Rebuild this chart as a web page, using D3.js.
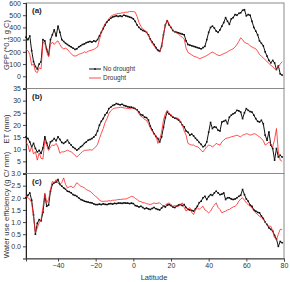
<!DOCTYPE html>
<html>
<head>
<meta charset="utf-8">
<script src="https://cdn.jsdelivr.net/npm/d3@7"></script>
<style>
  body { margin: 0; background: #fff; }
  svg { display: block; font-family: "Liberation Sans", Arial, sans-serif; }
</style>
</head>
<body>
<svg></svg>
<script>
// latitude grid, 1 degree steps from -57 to 79
let lat = d3.range(-57, 80, 1)

// (a) GPP, *0.1 g C
let gppNo = [
  320, 300, 330, 210, 120, 80, 60, 100, 120, 300,
  290, 220, 175, 300, 340, 380, 330, 410, 360, 300,
  285, 270, 260, 250, 240, 230, 220, 225, 240, 250,
  260, 265, 275, 280, 285, 280, 290, 285, 300, 330,
  360, 390, 420, 445, 460, 475, 485, 490, 495, 490,
  495, 490, 500, 495, 490, 485, 480, 470, 450, 420,
  400, 385, 375, 370, 360, 340, 305, 280, 260, 235,
  215, 205, 245, 340, 420, 455, 420, 400, 375, 365,
  360, 355, 350, 345, 340, 290, 260, 255, 250, 245,
  240, 235, 230, 225, 235, 245, 300, 360, 400, 410,
  395, 370, 360, 380, 410, 440, 480, 450, 425, 470,
  480, 505, 500, 515, 520, 540, 545, 495, 505, 500,
  450, 400, 370, 340, 290, 270, 250, 200, 165, 130,
  110, 130, 110, 55, 85, 20, 10
]
let gppDr = [
  220, 210, 180, 90, 100, 40, 30, 70, 60, 280,
  270, 200, 160, 260, 280, 260, 280, 290, 260, 235,
  225, 230, 220, 200, 185, 170, 165, 170, 180, 185,
  190, 200, 195, 205, 210, 215, 220, 230, 240, 300,
  360, 400, 430, 455, 470, 490, 500, 505, 510, 515,
  515, 520, 520, 525, 525, 530, 530, 530, 525, 490,
  440, 410, 390, 375, 360, 335, 300, 270, 250, 225,
  205, 200, 240, 340, 420, 460, 430, 400, 375, 365,
  355, 345, 330, 320, 305, 230, 195, 185, 175, 165,
  160, 155, 145, 148, 155, 162, 170, 180, 190, 198,
  190, 180, 172, 170, 178, 185, 192, 200, 210, 218,
  225, 240, 260, 285, 315, 300, 278, 270, 265, 250,
  240, 232, 225, 205, 178, 165, 150, 135, 120, 105,
  90, 80, 60, 55, 80, 100, 120
]

// (b) ET, mm
let etNo = [
  15.1, 14.4, 13, 11, 12.4, 10.3, 8.9, 9.5, 8.3, 10.5,
  15.1, 12.5, 10.3, 13, 13.5, 14.4, 13.5, 15.1, 14, 12.8,
  12.4, 13, 13.7, 12.5, 11.7, 10.8, 10.3, 9.6, 10.2, 11,
  11.5, 12.4, 13, 13.7, 14, 14.4, 15, 15.8, 17.5, 19.9,
  21.5, 22.6, 24.2, 25, 26.7, 27.3, 28, 28.3, 28.8, 28.5,
  28.3, 28.5, 28, 27.8, 27.5, 27.3, 27.3, 27, 26.7, 26.2,
  25.3, 24.2, 24, 23.2, 23, 22, 19.5, 18, 16.4, 15.2,
  14.4, 13, 15.1, 19, 23, 25.3, 24.5, 23.9, 23.2, 22.8,
  22.6, 22, 21.2, 20, 19.2, 17.5, 17, 15.8, 16.2, 15.5,
  14.5, 13.7, 12.8, 12, 11, 11.5, 13, 17, 21, 18.5,
  19.2, 19, 17.8, 17.5, 21.2, 21.5, 21.9, 20.5, 23.2, 24,
  24.6, 25, 26, 25.8, 25.3, 22.6, 25, 26.7, 26, 25.5,
  25.3, 24, 22.6, 21.5, 21.2, 21.9, 20.5, 15.8, 13.7, 17.1,
  11.7, 10.3, 5.5, 10.3, 6.8, 7.5, 6.8
]
let etDr = [
  13, 11.7, 8.9, 11, 8, 9, 5.5, 8.5, 6.2, 6,
  13.7, 11.5, 9.5, 11, 11.7, 11.5, 12.4, 11, 8.3, 8.9,
  8.9, 9.2, 9.6, 9.2, 8.9, 8.3, 7.5, 6.8, 7.5, 8.3,
  9, 9.5, 9.6, 9.6, 9.8, 9.6, 10.2, 11, 12, 14.4,
  16.5, 18.5, 21, 22.5, 24.6, 25.8, 26.5, 26.9, 27, 27.1,
  27.3, 27.2, 27, 26.9, 26.8, 26.7, 26.7, 27.3, 26.8, 26,
  24.6, 23.5, 23.2, 22.2, 21.9, 20.5, 18.8, 17.5, 16.2, 15.8,
  12.4, 14, 17, 22, 24.6, 26, 25, 23.9, 23.5, 23,
  22.8, 22.6, 21.5, 19.9, 17.5, 15.8, 12.4, 12, 11.7, 11.7,
  11.2, 11, 10.5, 9.5, 8.9, 10, 11, 11.7, 11.5, 11,
  11.5, 12.4, 12, 11.7, 13, 13.7, 14.4, 14.6, 14.8, 15.1,
  15.3, 15.5, 15.8, 15.4, 15.1, 15.8, 16, 16.4, 16.2, 15.8,
  16, 16.4, 16.2, 15.6, 15.1, 14.4, 13.5, 11.7, 12.2, 13,
  12, 11, 14, 18.5, 8.9, 5.5, 5
]

// (c) water use efficiency, g C / mm
let wueNo = [
  2.0, 2.1, 2.2, 1.9, 1.3, 0.5, 0.95, 1.1, 1.05, 1.4,
  2.1, 1.65, 1.7, 2.27, 2.55, 2.62, 2.65, 2.75, 2.55, 2.48,
  2.41, 2.35, 2.27, 2.25, 2.2, 2.13, 2.1, 2.06, 2.0, 1.93,
  1.9, 1.86, 1.84, 1.82, 1.8, 1.79, 1.75, 1.72, 1.72, 1.74,
  1.72, 1.75, 1.73, 1.72, 1.75, 1.76, 1.74, 1.77, 1.76, 1.78,
  1.78, 1.77, 1.79, 1.78, 1.78, 1.76, 1.78, 1.76, 1.68, 1.66,
  1.62, 1.65, 1.6, 1.55, 1.58, 1.54, 1.52, 1.56, 1.6, 1.55,
  1.52, 1.5, 1.58, 1.65, 1.62, 1.7, 1.72, 1.68, 1.62, 1.6,
  1.65, 1.7, 1.72, 1.68, 1.72, 1.6, 1.52, 1.5, 1.48, 1.45,
  1.55, 1.65, 1.8, 1.86, 2.0, 2.06, 1.93, 2.05, 2.13, 2.1,
  2.2, 2.27, 2.2, 2.13, 2.15, 2.2, 1.93, 2.0, 2.0, 1.95,
  1.93, 1.95, 2.0, 2.06, 2.1, 2.34, 2.13, 1.95, 1.86, 1.7,
  1.65, 1.5, 1.45, 1.4, 1.38, 1.25, 1.15, 1.0, 0.9, 0.76,
  0.7, 0.63, 0.45, 0.3, 0.0, 0.2, 0.15
]
let wueDr = [
  2.06, 2.0, 1.95, 1.8, 1.2, 0.56, 0.76, 0.97, 1.11, 1.6,
  2.2, 1.8, 1.93, 2.34, 2.68, 2.62, 2.75, 2.6, 2.55, 2.62,
  2.82, 2.55, 2.41, 2.45, 2.48, 2.41, 2.5, 2.62, 2.55, 2.48,
  2.45, 2.41, 2.34, 2.3, 2.27, 2.2, 2.13, 2.05, 2.0, 1.9,
  1.86, 1.85, 1.86, 1.86, 1.88, 1.87, 1.9, 1.9, 1.91, 1.93,
  1.93, 1.94, 1.95, 1.95, 1.98, 2.02, 2.06, 2.04, 1.98, 1.93,
  1.86, 1.84, 1.8, 1.79, 1.76, 1.74, 1.72, 1.75, 1.79, 1.76,
  1.78, 1.79, 1.72, 1.65, 1.7, 1.76, 1.79, 1.72, 1.65, 1.68,
  1.65, 1.65, 1.72, 1.79, 1.6, 1.45, 1.55, 1.59, 1.4, 1.31,
  1.5, 1.59, 1.52, 1.6, 1.65, 1.5, 1.45, 1.38, 1.45, 1.59,
  1.7, 1.79, 1.6, 1.52, 1.38, 1.42, 1.45, 1.5, 1.52, 1.58,
  1.62, 1.65, 1.72, 1.86, 1.95, 2.0, 1.9, 1.79, 1.72, 1.65,
  1.58, 1.45, 1.38, 1.31, 1.24, 1.18, 1.11, 1.0, 0.9, 0.83,
  0.83, 0.63, 0.35, 0.28, 0.5, 0.7, 0.7
]

let xTicks = [-40, -20, 0, 20, 40, 60, 80]
let seriesNames = ["No drought", "Drought"]

let width = 290
let height = 282
let left = 26
let right = 284

let svg = d3.select("svg").attr("width", width).attr("height", height)

let xScale = d3.scaleLinear().domain([-57, 80]).range([left, right])

// one entry per panel; the "0" of (b) sits under the "3.0" of (c), so it gets no text
let panels = [
  { tag: "(a)", title: "GPP (*0.1 g C)", no: gppNo, dr: gppDr, domain: [-100, 600],
    ticks: [0, 100, 200, 300, 400, 500, 600], fmt: d3.format("d"),
    top: 3, bottom: 88.5, titleY: 45, titleSize: 7.5 },
  { tag: "(b)", title: "ET (mm)", no: etNo, dr: etDr, domain: [0, 35],
    ticks: [0, 5, 10, 15, 20, 25, 30, 35], fmt: d => d === 0 ? "" : d,
    top: 88.5, bottom: 173.5, titleY: 129, titleSize: 7.5 },
  { tag: "(c)", title: "Water use efficiency (g C/ mm)", no: wueNo, dr: wueDr, domain: [-0.5, 3.0],
    ticks: [0, 0.5, 1, 1.5, 2, 2.5, 3], fmt: d3.format(".1f"),
    top: 173.5, bottom: 258.5, titleY: 205, titleSize: 7.8 }
]

panels.forEach(function(p) {
  let yScale = d3.scaleLinear().domain(p.domain).range([p.bottom, p.top])
  let g = svg.append("g")

  // frame
  g.append("rect")
   .attr("x", left).attr("y", p.top)
   .attr("width", right - left).attr("height", p.bottom - p.top)
   .attr("fill", "none").attr("stroke", "#8a8a8a").attr("stroke-width", 1)

  let yAxis = d3.axisLeft(yScale).tickValues(p.ticks).tickFormat(p.fmt).tickSize(3).tickPadding(2)
  let ax = g.append("g").attr("transform", "translate(" + left + ",0)").call(yAxis)
  ax.select(".domain").attr("stroke", "#222")
  ax.selectAll(".tick line").attr("stroke", "#444")
  ax.selectAll("text").attr("font-size", 7).attr("fill", "#333")

  let line = d3.line()
               .x((d, i) => xScale(lat[i]))
               .y(d => yScale(d))

  g.append("path").datum(p.no)
   .attr("d", line).attr("fill", "none").attr("stroke", "#111").attr("stroke-width", 1)
  g.selectAll(".mk").data(p.no).enter().append("rect")
   .attr("x", (d, i) => xScale(lat[i]) - 0.8)
   .attr("y", d => yScale(d) - 0.8)
   .attr("width", 1.6).attr("height", 1.6)
   .attr("fill", "#111")

  g.append("path").datum(p.dr)
   .attr("d", line).attr("fill", "none").attr("stroke", "#f22").attr("stroke-width", 0.8)

  g.append("text").attr("x", 32).attr("y", p.top + 10)
   .attr("font-size", 8).attr("font-weight", "bold").attr("fill", "#222").text(p.tag)

  g.append("text")
   .attr("transform", "translate(9," + p.titleY + ") rotate(-90)")
   .attr("text-anchor", "middle").attr("font-size", p.titleSize).attr("fill", "#333")
   .text(p.title)
})

// x axis under the last panel
let xAxis = d3.axisBottom(xScale).tickValues(xTicks).tickSize(3).tickPadding(2)
let xg = svg.append("g").attr("transform", "translate(0," + 258.5 + ")").call(xAxis)
xg.select(".domain").attr("stroke", "#444")
xg.selectAll(".tick line").attr("stroke", "#444")
xg.selectAll("text").attr("font-size", 7).attr("fill", "#333")

svg.append("text").attr("x", 154).attr("y", 280)
   .attr("text-anchor", "middle").attr("font-size", 7.5).attr("fill", "#333").text("Latitude")

// legend in panel (a)
let legend = svg.append("g").attr("transform", "translate(89,69)")
legend.append("line").attr("x1", 0).attr("x2", 12).attr("y1", 0).attr("y2", 0)
      .attr("stroke", "#111").attr("stroke-width", 1)
legend.append("rect").attr("x", 5.2).attr("y", -0.8).attr("width", 1.6).attr("height", 1.6).attr("fill", "#111")
legend.append("line").attr("x1", 0).attr("x2", 12).attr("y1", 9).attr("y2", 9)
      .attr("stroke", "#f22").attr("stroke-width", 0.8)
legend.selectAll("text").data(seriesNames).enter().append("text")
      .attr("x", 14).attr("y", (d, i) => i * 9 + 2.3)
      .attr("font-size", 6.5).attr("fill", "#333").text(d => d)
</script>
</body>
</html>
